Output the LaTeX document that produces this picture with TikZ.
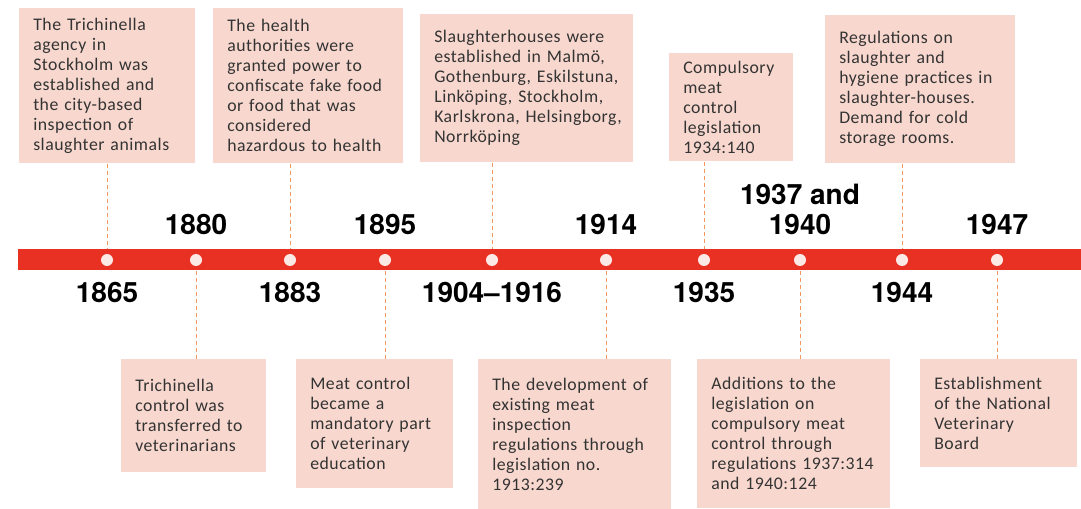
\documentclass[tikz,border=0pt]{standalone}
\usepackage{fontspec}
\newfontfamily\notefont[LetterSpace=3,Numbers=Lining]{Carlito}
\newfontfamily\yearfont{TeX Gyre Heros}

\definecolor{barred}{RGB}{232,49,35}
\definecolor{dotfill}{RGB}{251,233,229}
\definecolor{notefill}{RGB}{248,216,206}
\definecolor{leadorange}{RGB}{243,150,95}
\definecolor{notetext}{RGB}{51,51,51}

\tikzset{
  note/.style={anchor=north west, fill=notefill, text=notetext,
    inner xsep=10.5pt, inner ysep=0pt,
    execute at begin node={\hyphenpenalty=10000\rightskip=0pt minus 30pt\relax},
    font=\notefont\fontsize{13.3}{15}\selectfont},
  dot/.style={circle, fill=dotfill, minimum size=9pt, inner sep=0pt},
  year/.style={anchor=south, inner sep=0pt, text depth=0pt, align=center,
    font=\yearfont\bfseries\fontsize{21}{22.5}\selectfont},
  leader/.style={leadorange, line width=0.75pt, dash pattern=on 3pt off 2.25pt},
}

\begin{document}
\begin{tikzpicture}[x=0.75pt,y=-0.75pt]
  \useasboundingbox (0,0) rectangle (1081,509);

  % the time axis
  \node[fill=barred, minimum width=797.25pt, minimum height=15.75pt,
    inner sep=0pt, anchor=west] (bar) at (18,260) {};
  \foreach \yr/\x in {1865/107,1880/196,1883/290,1895/385,1904/492,
                      1914/606,1935/704,1937/800,1944/902,1947/997}
    \node[dot] (d\yr) at (\x,260) {};

  % years above and below the axis
  \foreach \yr/\lab in {1880/1880,1895/1895,1914/1914,1937/{1937 and\\1940},1947/1947}
    \node[year] (y\yr) at (d\yr |- 0,235) {\lab};
  \foreach \yr/\lab in {1865/1865,1883/1883,1904/{1904–1916},1935/1935,1944/1944}
    \node[year] (y\yr) at (d\yr |- 0,303) {\lab};

  % events above the axis
  \node[note, text width=111pt, minimum height=116.25pt] (n1865) at (19,8)
    {The Trichinella\\agency in\\Stockholm was\\established and\\the city-based\\inspection of\\slaughter animals};
  \node[note, text width=121.5pt, minimum height=116.25pt] (n1883) at (213,8)
    {The health\\authorities were\\granted power to\\confiscate fake food\\or food that was\\considered\\hazardous to health};
  \node[note, text width=138.75pt, minimum height=111pt] (n1904) at (420,14)
    {Slaughterhouses were\\established in Malmö,\\Gothenburg, Eskilstuna,\\Linköping, Stockholm,\\Karlskrona, Helsingborg,\\Norrköping};
  \node[note, text width=72pt, minimum height=81pt] (n1935) at (669,53)
    {Compulsory\\meat\\control\\legislation\\1934:140};
  \node[note, text width=121.5pt, minimum height=111pt] (n1944) at (825,15)
    {Regulations on\\slaughter and\\hygiene practices in\\slaughter-houses.\\Demand for cold\\storage rooms.};

  % events below the axis
  \node[note, text width=87.75pt, minimum height=84.75pt] (n1880) at (121,359)
    {Trichinella\\control was\\transferred to\\veterinarians};
  \node[note, text width=96.75pt, minimum height=96.75pt] (n1895) at (296,359)
    {Meat control\\became a\\mandatory part\\of veterinary\\education};
  \node[note, text width=123.75pt, minimum height=112.5pt] (n1914) at (478,359)
    {The development of\\existing meat\\inspection\\regulations through\\legislation no.\\1913:239};
  \node[note, text width=123.75pt, minimum height=111.75pt] (n1937) at (697,359)
    {Additions to the\\legislation on\\compulsory meat\\control through\\regulations 1937:314\\and 1940:124};
  \node[note, text width=96.75pt, minimum height=81pt] (n1947) at (920,359)
    {Establishment\\of the National\\Veterinary\\Board};

  % dashed leaders between notes and axis
  \foreach \yr in {1865,1883,1904,1935,1944}
    \draw[leader] (d\yr |- n\yr.south) -- (d\yr |- bar.north);
  \foreach \yr in {1880,1895,1914,1937,1947}
    \draw[leader] (d\yr |- bar.south) -- (d\yr |- n\yr.north);
\end{tikzpicture}
\end{document}
